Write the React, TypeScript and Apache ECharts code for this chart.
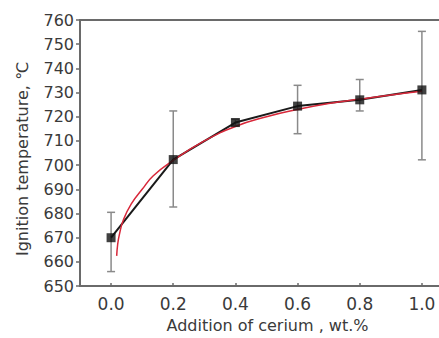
import React, { useEffect, useRef } from "react";
import * as echarts from "echarts";

const xValues = [0.0, 0.2, 0.4, 0.6, 0.8, 1.0];
const meanTemp = [670, 702.3, 717.6, 724.4, 727, 731.1];
const errLow = [656, 682.7, 716.3, 713, 722.4, 702.2];
const errHigh = [680.5, 722.4, 719, 733, 735.4, 755.3];

const fitX = [0.018, 0.021, 0.027, 0.04, 0.065, 0.1, 0.135, 0.2, 0.3, 0.4, 0.5, 0.6, 0.7, 0.8, 0.9, 1.0];
const fitY = [662.5, 667, 671.5, 677.5, 684, 690, 695.5, 702, 710, 716, 720, 723, 725.5, 727.3, 729, 730.5];

const xTicks = [0, 0.2, 0.4, 0.6, 0.8, 1.0];

const FONT = "DejaVu Sans";
const TXT = "#3a3a3a";
const AX = "#6a6a6a";

export default function App() {
  const ref = useRef<HTMLDivElement>(null);
  useEffect(() => {
    const chart = echarts.init(ref.current!, null, { renderer: "svg" });
    const errData = xValues.map((x, i) => [x, errLow[i], errHigh[i]]);
    chart.setOption({
      animation: false,
      backgroundColor: "#ffffff",
      grid: { left: 80, top: 20, right: 0, bottom: 45, containLabel: false },
      xAxis: [
        {
          type: "value",
          min: -0.1,
          max: 1.055,
          name: "Addition of cerium , wt.%",
          nameLocation: "middle",
          nameGap: 29,
          nameTextStyle: { fontFamily: FONT, fontSize: 16, color: TXT, padding: [0, 0, 0, 16] },
          axisLine: { show: true, onZero: false, lineStyle: { color: AX, width: 2 } },
          axisTick: { show: true, inside: true, length: 3, customValues: xTicks, lineStyle: { color: AX, width: 1.5 } },
          axisLabel: {
            customValues: xTicks,
            formatter: (v: number) => v.toFixed(1),
            fontFamily: FONT,
            fontSize: 17,
            color: TXT,
            margin: 9,
          },
          splitLine: { show: false },
        },
        {
          type: "value",
          position: "top",
          min: -0.1,
          max: 1.055,
          axisLine: { show: true, onZero: false, lineStyle: { color: AX, width: 2 } },
          axisTick: { show: false },
          axisLabel: { show: false },
          splitLine: { show: false },
        },
      ],
      yAxis: {
        type: "value",
        min: 650,
        max: 760,
        interval: 10,
        name: "Ignition temperature, ℃",
        nameLocation: "middle",
        nameGap: 50,
        nameTextStyle: { fontFamily: FONT, fontSize: 16, color: TXT, padding: [0, 12, 0, 0] },
        axisLine: { show: true, onZero: false, lineStyle: { color: AX, width: 2 } },
        axisTick: { show: true, inside: false, length: 4, lineStyle: { color: AX, width: 1.5 } },
        axisLabel: { fontFamily: FONT, fontSize: 16, color: TXT, margin: 6 },
        splitLine: { show: false },
      },
      series: [
        {
          type: "custom",
          xAxisIndex: 0,
          data: errData,
          z: 1,
          renderItem: (params: any, api: any) => {
            const x = api.value(0);
            const lo = api.coord([x, api.value(1)]);
            const hi = api.coord([x, api.value(2)]);
            const hw = 4;
            const st = { stroke: "#8a8a8a", lineWidth: 1.5 };
            return {
              type: "group",
              children: [
                { type: "line", shape: { x1: lo[0], y1: lo[1], x2: hi[0], y2: hi[1] }, style: st },
                { type: "line", shape: { x1: lo[0] - hw, y1: lo[1], x2: lo[0] + hw, y2: lo[1] }, style: st },
                { type: "line", shape: { x1: hi[0] - hw, y1: hi[1], x2: hi[0] + hw, y2: hi[1] }, style: st },
              ],
            };
          },
        },
        {
          type: "line",
          xAxisIndex: 0,
          data: xValues.map((x, i) => [x, meanTemp[i]]),
          showSymbol: false,
          lineStyle: { color: "#1a1a1a", width: 2 },
          z: 2,
        },
        {
          type: "line",
          xAxisIndex: 0,
          data: fitX.map((x, i) => [x, fitY[i]]),
          smooth: true,
          showSymbol: false,
          lineStyle: { color: "#d8283a", width: 1.5 },
          z: 3,
        },
        {
          type: "scatter",
          xAxisIndex: 0,
          data: xValues.map((x, i) => [x, meanTemp[i]]),
          symbol: "rect",
          symbolSize: 9,
          itemStyle: { color: "#111111" },
          z: 4,
        },
      ],
    });
    return () => chart.dispose();
  }, []);
  return (
    <div
      ref={ref}
      style={{ position: "fixed", left: 0, top: 0, width: 439, height: 338, background: "#fff" }}
    />
  );
}
